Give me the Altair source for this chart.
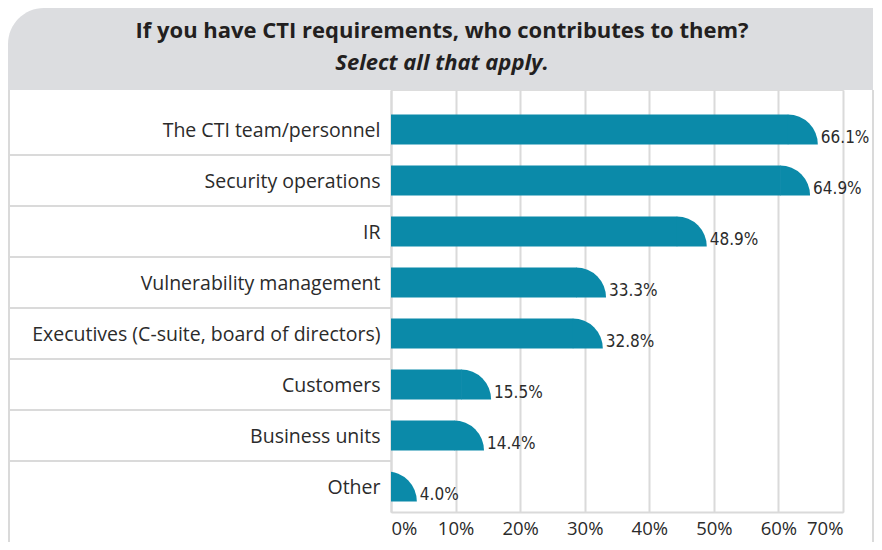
import altair as alt
import pandas as pd
import math

categories = [
    "The CTI team/personnel",
    "Security operations",
    "IR",
    "Vulnerability management",
    "Executives (C-suite, board of directors)",
    "Customers",
    "Business units",
    "Other",
]
values = [66.1, 64.9, 48.9, 33.3, 32.8, 15.5, 14.4, 4.0]
x_ticks = [0, 10, 20, 30, 40, 50, 60, 70]
title_line = "If you have CTI requirements, who contributes to them?"
subtitle_line = "Select all that apply."

df = pd.DataFrame({"cat": categories, "val": values})
df["label"] = [f"{v:.1f}%" for v in values]
sep_df = pd.DataFrame({"cat": categories[:-1]})
one = pd.DataFrame({"k": [0]})

BAR = "#0b8aa9"
GRID = "#dadada"
TXT = "#2b2b2b"
R = 30  # bar thickness and rounded-end radius

W, H = 452, 422

yscale = alt.Scale(domain=categories, paddingInner=0, paddingOuter=0.137, align=1)
xscale = alt.Scale(domain=[0, 70], nice=False)

header = alt.Chart(one).mark_rect(color="#dcdde0", cornerRadiusTopLeft=36).encode(
    x=alt.value(-383), x2=alt.value(482), y=alt.value(-82), y2=alt.value(0)
)
left_border = alt.Chart(one).mark_rule(color=GRID, strokeWidth=2).encode(
    x=alt.value(-382), y=alt.value(0), y2=alt.value(470)
)
right_border = alt.Chart(one).mark_rule(color=GRID, strokeWidth=2).encode(
    x=alt.value(482), y=alt.value(0), y2=alt.value(470)
)
title1 = alt.Chart(one).mark_text(
    text=title_line, font="Open Sans", fontWeight="bold", fontSize=22,
    color="#231f20", align="center", baseline="alphabetic"
).encode(x=alt.value(51), y=alt.value(-52))
title2 = alt.Chart(one).mark_text(
    text=subtitle_line, font="Open Sans", fontWeight="bold", fontStyle="italic",
    fontSize=22, color="#231f20", align="center", baseline="alphabetic"
).encode(x=alt.value(51), y=alt.value(-20))

seps = alt.Chart(sep_df).mark_rule(color=GRID, strokeWidth=2).encode(
    y=alt.Y("cat:N", scale=yscale, bandPosition=1),
    x=alt.value(-382), x2=alt.value(0),
)

bars = alt.Chart(df).mark_bar(color=BAR, height=R, xOffset=-R + 0.5, clip=True).encode(
    y=alt.Y("cat:N", scale=yscale, sort=categories,
            axis=alt.Axis(title=None, ticks=False, labelFontSize=19.5, labelFont="Open Sans",
                          labelColor=TXT, labelPadding=11, domainColor=GRID, labelOffset=2,
                          domainWidth=2, grid=False, labelLimit=420)),
    x=alt.X("val:Q", scale=xscale,
            axis=alt.Axis(title=None, values=x_ticks, labelExpr="datum.value + '%'",
                          ticks=False, labelFontSize=18.5, labelFont="Open Sans",
                          labelColor=TXT, labelPadding=7, domainColor=GRID,
                          domainWidth=2, gridColor=GRID, gridWidth=2)),
    x2=alt.value(0),
)

ends = alt.Chart(df).mark_arc(
    color=BAR, radius=R, theta=0, theta2=math.pi / 2, xOffset=-R, yOffset=R / 2, clip=True
).encode(
    y=alt.Y("cat:N", scale=yscale, sort=categories),
    x=alt.X("val:Q", scale=xscale),
)

labels = alt.Chart(df).mark_text(
    align="left", baseline="alphabetic", dx=3, dy=14, fontSize=17,
    font="'DejaVu Sans Condensed', 'Roboto Condensed', 'Liberation Sans Narrow', Roboto, sans-serif",
    color=TXT
).encode(
    y=alt.Y("cat:N", scale=yscale, sort=categories),
    x=alt.X("val:Q", scale=xscale),
    text="label:N",
)

chart = alt.layer(header, left_border, right_border, title1, title2, seps, bars, ends, labels).properties(
    width=W, height=H,
    autosize=alt.AutoSizeParams(type="none"),
    padding={"left": 383, "top": 82, "right": 31, "bottom": 30},
).configure_view(stroke=None).configure(background="white")

chart.save("out.html", embed_options={"renderer": "svg", "actions": False})
